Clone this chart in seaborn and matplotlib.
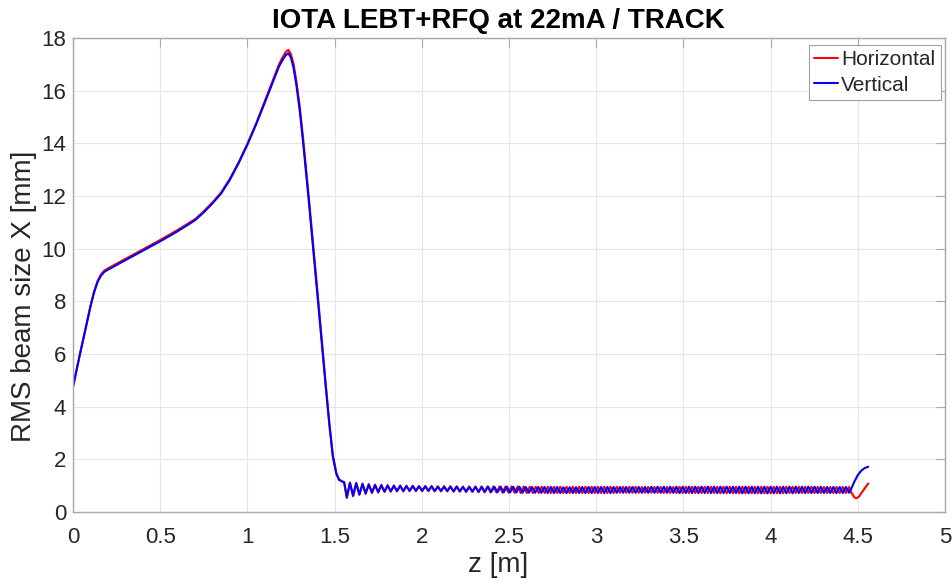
import matplotlib
matplotlib.use("Agg")
import matplotlib.pyplot as plt
import seaborn as sns
import pandas as pd

# ---------------- data ----------------
series_names = ["Horizontal", "Vertical"]
title_text = "IOTA LEBT+RFQ at 22mA / TRACK"
x_label = "z [m]"
y_label = "RMS beam size X [mm]"
x_ticks = [0, 0.5, 1, 1.5, 2, 2.5, 3, 3.5, 4, 4.5, 5]
x_tick_labels = ["0", "0.5", "1", "1.5", "2", "2.5", "3", "3.5", "4", "4.5", "5"]
y_ticks = [0, 2, 4, 6, 8, 10, 12, 14, 16, 18]

# LEBT part (both planes nearly identical)
main_z = [0.00, 0.02, 0.04, 0.06, 0.08, 0.10, 0.12, 0.14, 0.16, 0.18, 0.20, 0.25,
          0.30, 0.40, 0.50, 0.60, 0.70, 0.75, 0.80, 0.85, 0.90, 0.95, 1.00, 1.05,
          1.10, 1.15, 1.18, 1.20, 1.22, 1.235, 1.25, 1.265, 1.28, 1.30, 1.32, 1.35,
          1.40, 1.45, 1.47, 1.49, 1.51, 1.525, 1.54, 1.555]
vert_main = [4.75, 5.38, 6.00, 6.60, 7.20, 7.80, 8.32, 8.72, 8.97, 9.12, 9.20, 9.38,
             9.56, 9.92, 10.28, 10.66, 11.08, 11.38, 11.72, 12.10, 12.62, 13.25, 13.95, 14.72,
             15.55, 16.40, 16.90, 17.15, 17.35, 17.42, 17.25, 16.85, 16.25, 15.25, 14.00, 11.95,
             8.35, 4.70, 3.30, 2.10, 1.45, 1.22, 1.17, 1.12]
horiz_main = [4.75, 5.38, 6.00, 6.60, 7.20, 7.82, 8.35, 8.76, 9.02, 9.17, 9.25, 9.43,
              9.61, 9.97, 10.33, 10.71, 11.12, 11.42, 11.76, 12.14, 12.66, 13.28, 13.98, 14.75,
              15.60, 16.46, 16.98, 17.25, 17.47, 17.55, 17.38, 17.00, 16.40, 15.40, 14.15, 12.10,
              8.50, 4.80, 3.38, 2.15, 1.48, 1.24, 1.18, 1.13]

# RFQ part: positions of the oscillation extrema
osc_z = [1.570, 1.588, 1.606, 1.624, 1.642, 1.660, 1.678, 1.696, 1.714, 1.732,
         1.750, 1.768, 1.786, 1.804, 1.822, 1.840, 1.858, 1.876, 1.894, 1.912,
         1.930, 1.948, 1.966, 1.984, 2.002, 2.020, 2.038, 2.056, 2.074, 2.092,
         2.110, 2.128, 2.146, 2.164, 2.182, 2.200, 2.218, 2.236, 2.254, 2.272,
         2.290, 2.308, 2.326, 2.344, 2.362, 2.380, 2.398, 2.416, 2.434, 2.452,
         2.470, 2.488, 2.506, 2.524, 2.542, 2.560, 2.578, 2.596, 2.614, 2.632,
         2.650, 2.668, 2.686, 2.704, 2.722, 2.740, 2.758, 2.776, 2.794, 2.812,
         2.830, 2.848, 2.866, 2.884, 2.902, 2.920, 2.938, 2.956, 2.974, 2.992,
         3.010, 3.028, 3.046, 3.064, 3.082, 3.100, 3.118, 3.136, 3.154, 3.172,
         3.190, 3.208, 3.226, 3.244, 3.262, 3.280, 3.298, 3.316, 3.334, 3.352,
         3.370, 3.388, 3.406, 3.424, 3.442, 3.460, 3.478, 3.496, 3.514, 3.532,
         3.550, 3.568, 3.586, 3.604, 3.622, 3.640, 3.658, 3.676, 3.694, 3.712,
         3.730, 3.748, 3.766, 3.784, 3.802, 3.820, 3.838, 3.856, 3.874, 3.892,
         3.910, 3.928, 3.946, 3.964, 3.982, 4.000, 4.018, 4.036, 4.054, 4.072,
         4.090, 4.108, 4.126, 4.144, 4.162, 4.180, 4.198, 4.216, 4.234, 4.252,
         4.270, 4.288, 4.306, 4.324, 4.342, 4.360, 4.378, 4.396, 4.414, 4.432,
         4.450]
vert_osc = [0.56, 1.10, 0.62, 1.09, 0.67, 1.06, 0.71, 1.04, 0.74, 1.02,
            0.76, 1.01, 0.78, 1.00, 0.79, 0.99, 0.80, 0.99, 0.80, 0.98,
            0.81, 0.98, 0.81, 0.97, 0.81, 0.97, 0.81, 0.97, 0.80, 0.96,
            0.80, 0.96, 0.80, 0.96, 0.79, 0.96, 0.79, 0.95, 0.78, 0.95,
            0.78, 0.95, 0.77, 0.95, 0.77, 0.96, 0.76, 0.96, 0.75, 0.96,
            0.75, 0.96, 0.74, 0.96, 0.74, 0.96, 0.73, 0.95, 0.73, 0.95,
            0.73, 0.95, 0.73, 0.95, 0.72, 0.95, 0.72, 0.95, 0.72, 0.94,
            0.72, 0.94, 0.72, 0.94, 0.72, 0.95, 0.72, 0.95, 0.72, 0.95,
            0.72, 0.95, 0.72, 0.95, 0.72, 0.95, 0.73, 0.95, 0.73, 0.95,
            0.73, 0.95, 0.73, 0.95, 0.73, 0.95, 0.73, 0.96, 0.73, 0.96,
            0.73, 0.96, 0.73, 0.96, 0.73, 0.96, 0.72, 0.96, 0.72, 0.96,
            0.72, 0.96, 0.72, 0.96, 0.72, 0.96, 0.72, 0.96, 0.72, 0.96,
            0.72, 0.96, 0.72, 0.96, 0.72, 0.96, 0.71, 0.96, 0.71, 0.96,
            0.71, 0.96, 0.71, 0.96, 0.71, 0.96, 0.71, 0.96, 0.71, 0.96,
            0.71, 0.96, 0.71, 0.96, 0.72, 0.96, 0.72, 0.96, 0.72, 0.96,
            0.72, 0.96, 0.72, 0.95, 0.72, 0.95, 0.72, 0.95, 0.72, 0.95,
            0.73]

# horizontal plane: in phase first, then drifts to anti-phase (2.29 - 2.74 m)
horiz_shift_z = [2.307, 2.325, 2.342, 2.359, 2.377, 2.394, 2.411, 2.428, 2.446, 2.463,
                 2.480, 2.498, 2.515, 2.532, 2.550, 2.567, 2.584, 2.602, 2.619, 2.636,
                 2.653, 2.671, 2.688, 2.705, 2.723, 2.740]
horiz_osc_a = [0.53, 1.12, 0.60, 1.11, 0.65, 1.08, 0.69, 1.06, 0.72, 1.04,
               0.74, 1.03, 0.76, 1.02, 0.77, 1.01, 0.78, 1.01, 0.78, 1.00,
               0.79, 1.00, 0.79, 0.99, 0.79, 0.99, 0.79, 0.99, 0.78, 0.98,
               0.78, 0.98, 0.78, 0.98, 0.77, 0.98, 0.77, 0.97, 0.76, 0.97,
               0.76]
horiz_osc_b = [0.97, 0.75, 0.97, 0.75, 0.97, 0.74, 0.97, 0.74, 0.97, 0.73,
               0.97, 0.73, 0.97, 0.73, 0.97, 0.72, 0.97, 0.72, 0.96, 0.72,
               0.96, 0.72, 0.96, 0.72, 0.96, 0.72]
horiz_osc_c = [0.96, 0.72, 0.96, 0.72, 0.96, 0.72, 0.96, 0.72, 0.96, 0.72,
               0.96, 0.72, 0.96, 0.72, 0.96, 0.72, 0.96, 0.72, 0.96, 0.72,
               0.96, 0.73, 0.96, 0.73, 0.96, 0.73, 0.96, 0.73, 0.95, 0.73,
               0.95, 0.73, 0.95, 0.73, 0.95, 0.72, 0.95, 0.72, 0.95, 0.72,
               0.96, 0.72, 0.96, 0.72, 0.96, 0.72, 0.96, 0.72, 0.96, 0.72,
               0.96, 0.72, 0.96, 0.71, 0.96, 0.71, 0.96, 0.71, 0.96, 0.71,
               0.96, 0.71, 0.96, 0.71, 0.96, 0.71, 0.96, 0.71, 0.96, 0.71,
               0.96, 0.71, 0.96, 0.71, 0.96, 0.72, 0.96, 0.72, 0.96, 0.72,
               0.96, 0.72, 0.96, 0.72, 0.95, 0.72, 0.95, 0.72, 0.95, 0.72,
               0.95, 0.72, 0.95, 0.72, 0.95]

# exit of the RFQ
vert_end_z = [4.465, 4.48, 4.50, 4.52, 4.54, 4.56]
vert_end = [0.92, 1.15, 1.40, 1.57, 1.67, 1.72]
horiz_end_z = [4.465, 4.48, 4.49, 4.505, 4.525, 4.545, 4.56]
horiz_end = [0.72, 0.56, 0.52, 0.57, 0.76, 0.95, 1.08]

# ---------------- assemble ----------------
h_z = main_z + osc_z[:41] + horiz_shift_z + osc_z[66:] + horiz_end_z
h_v = horiz_main + horiz_osc_a + horiz_osc_b + horiz_osc_c + horiz_end
v_z = main_z + osc_z + vert_end_z
v_v = vert_main + vert_osc + vert_end

df = pd.concat([
    pd.DataFrame({"z": h_z, "size": h_v, "series": series_names[0]}),
    pd.DataFrame({"z": v_z, "size": v_v, "series": series_names[1]}),
], ignore_index=True)

# ---------------- plot ----------------
sns.set_theme(style="white")
plt.rcParams["font.family"] = ["Liberation Sans", "DejaVu Sans"]

fig = plt.figure(figsize=(9.52, 5.80), dpi=100)
ax = fig.add_axes([73 / 952, 1 - 512 / 580, (945 - 73) / 952, (512 - 38) / 580])

sns.lineplot(data=df, x="z", y="size", hue="series",
             palette={series_names[0]: "#ff0000", series_names[1]: "#0000ff"},
             sort=False, estimator=None, linewidth=1.5, ax=ax)

ax.set_xlim(0, 5)
ax.set_ylim(0, 18)
ax.set_xticks(x_ticks)
ax.set_xticklabels(x_tick_labels)
ax.set_yticks(y_ticks)
ax.grid(True, color="#e6e6e6", linewidth=0.8)
ax.set_axisbelow(True)

spine_col = "#a8a8a8"
for s in ax.spines.values():
    s.set_visible(True)
    s.set_color(spine_col)
    s.set_linewidth(1.0)

ax.tick_params(axis="both", direction="in", length=6.5, width=0.8, color=spine_col,
               top=True, right=True, labelsize=16, labelcolor="#262626")
ax.tick_params(axis="x", pad=11)
ax.tick_params(axis="y", pad=5)

ax.set_xlabel(x_label, fontsize=20, color="#262626", labelpad=3)
ax.xaxis.set_label_coords(0.488, -0.085)
ax.set_ylabel(y_label, fontsize=20, color="#262626", labelpad=2)
ax.yaxis.set_label_coords(-0.041, 0.456)
ax.set_title(title_text, fontsize=20, fontweight="bold", color="black", pad=7, x=0.488)

old = ax.get_legend()
handles = old.legend_handles
labels = [t.get_text() for t in old.get_texts()]
leg = ax.legend(handles, labels, loc="upper right", bbox_to_anchor=(0.995, 0.985),
                borderaxespad=0, fontsize=15, frameon=True, fancybox=False,
                handlelength=1.15, handletextpad=0.15, labelspacing=0.3,
                borderpad=0.25)
leg.get_frame().set_edgecolor("#a0a0a0")
leg.get_frame().set_linewidth(0.8)
leg.get_frame().set_alpha(1.0)
for t in leg.get_texts():
    t.set_color("#262626")

fig.savefig("out.png", dpi=100, facecolor="white")
